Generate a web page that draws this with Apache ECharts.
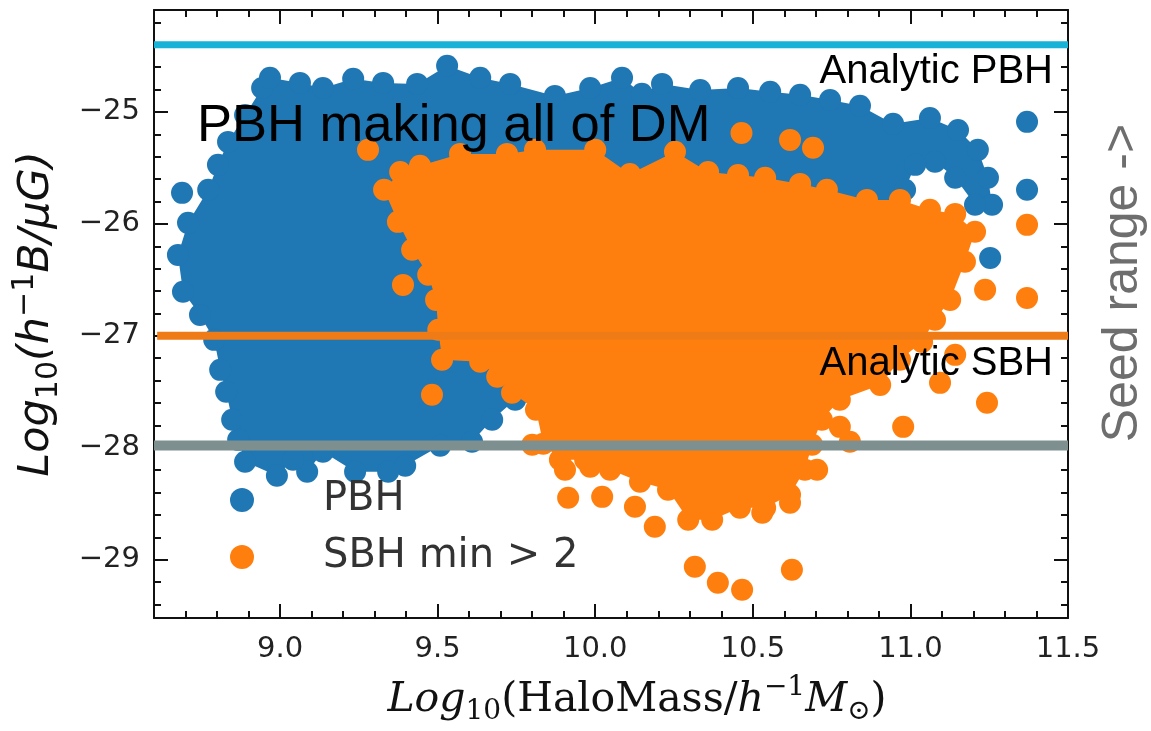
<!DOCTYPE html>
<html>
<head>
<meta charset="utf-8">
<script src="https://cdn.jsdelivr.net/npm/echarts@6/dist/echarts.min.js"></script>
<style>
  html, body { margin: 0; padding: 0; background: #fff; }
  #chart { width: 1151px; height: 731px; }
</style>
</head>
<body>
<div id="chart"></div>
<script>
// axis ranges and ticks
const xRange = [8.6, 11.5]
const yRange = [-29.52, -24.09]
const xMajor = [9.0, 9.5, 10.0, 10.5, 11.0, 11.5]
const xMinor = [8.7, 8.8, 8.9, 9.1, 9.2, 9.3, 9.4, 9.6, 9.7, 9.8, 9.9, 10.1, 10.2, 10.3, 10.4, 10.6, 10.7, 10.8, 10.9, 11.1, 11.2, 11.3, 11.4]
const yMajor = [-29, -28, -27, -26, -25]
const yMinor = [-29.4, -29.2, -28.8, -28.6, -28.4, -28.2, -27.8, -27.6, -27.4, -27.2, -26.8, -26.6, -26.4, -26.2, -25.8, -25.6, -25.4, -25.2, -24.8, -24.6, -24.4, -24.2]

// reference levels
const analyticPBH = -24.4
const analyticSBH = -27.0
const seedMin = -27.98

// PBH halos: points along the edge of the dense cloud (clockwise) + strays
const pbhEdge = [
  [8.943, -24.786], [8.968, -24.696], [9.063, -24.741], [9.136, -24.786], [9.232, -24.705],
  [9.327, -24.741], [9.435, -24.75], [9.530, -24.589], [9.635, -24.696], [9.730, -24.75],
  [9.872, -24.857], [9.984, -24.786], [10.085, -24.696], [10.148, -24.839], [10.212, -24.75],
  [10.333, -24.804], [10.453, -24.786], [10.555, -24.821], [10.650, -24.848], [10.745, -24.893],
  [10.840, -24.946], [10.945, -25.107], [11.062, -25.054], [11.151, -25.161], [11.214, -25.339],
  [11.246, -25.589], [11.259, -25.830], [11.205, -25.830], [11.142, -25.589], [11.078, -25.446],
  [11.015, -25.473], [10.983, -25.696], [10.904, -26.5], [10.808, -26.946], [10.333, -27.482],
  [9.888, -27.661], [9.746, -27.571], [9.673, -27.75], [9.609, -27.946], [9.508, -27.982],
  [9.397, -28.161], [9.343, -28.214], [9.238, -28.214], [9.136, -28.036], [9.086, -28.214],
  [9.041, -28.107], [8.990, -28.25], [8.889, -28.125], [8.867, -27.929], [8.848, -27.75],
  [8.829, -27.5], [8.810, -27.304], [8.791, -27.036], [8.746, -26.813], [8.692, -26.607],
  [8.676, -26.277], [8.708, -25.991], [8.772, -25.696], [8.803, -25.473], [8.835, -25.268],
  [8.889, -25.027]
]
const pbhStray = [
  [8.689, -25.723], [11.370, -25.089], [11.370, -25.696], [11.253, -26.304]
]

// SBH halos (min > 2): edge of the dense cloud + strays
const sbhEdge = [
  [9.381, -25.536], [9.444, -25.482], [9.571, -25.375], [9.720, -25.375], [9.809, -25.339],
  [10.0, -25.339], [10.110, -25.554], [10.253, -25.357], [10.358, -25.536], [10.453, -25.563],
  [10.539, -25.589], [10.650, -25.643], [10.735, -25.696], [10.862, -25.786], [10.967, -25.786],
  [11.062, -25.875], [11.142, -25.911], [11.205, -26.071], [11.173, -26.339], [11.126, -26.679],
  [11.078, -26.857], [11.037, -27.054], [10.967, -27.214], [10.904, -27.438], [10.776, -27.571],
  [10.719, -27.75], [10.688, -27.973], [10.665, -28.196], [10.618, -28.420], [10.539, -28.536],
  [10.459, -28.536], [10.371, -28.643], [10.295, -28.643], [10.231, -28.375], [10.142, -28.304],
  [10.047, -28.196], [9.968, -28.107], [9.888, -28.107], [9.835, -27.964], [9.812, -27.661],
  [9.736, -27.509], [9.689, -27.366], [9.635, -27.232], [9.514, -27.214], [9.502, -26.946],
  [9.495, -26.679], [9.470, -26.455], [9.419, -26.232], [9.374, -25.982], [9.330, -25.696]
]
const sbhStray = [
  [9.279, -25.339], [10.464, -25.188], [10.618, -25.25], [10.691, -25.321], [9.390, -26.545],
  [9.482, -27.527], [11.370, -26.009], [11.370, -26.661], [11.237, -26.589], [11.142, -27.170],
  [11.094, -27.420], [11.243, -27.598], [10.977, -27.813], [10.776, -27.813], [10.808, -27.946],
  [10.704, -28.196], [10.618, -28.491], [10.530, -28.580], [10.624, -29.089], [9.800, -27.973],
  [9.904, -28.196], [9.984, -28.170], [9.914, -28.446], [10.022, -28.438], [10.126, -28.527],
  [10.189, -28.705], [10.316, -29.063], [10.389, -29.205], [10.466, -29.268]
]

const blue = '#1f77b4'
const orange = '#ff7f0e'
const frame = { color: '#111', width: 2 }
const minus = (v) => (v < 0 ? '\u2212' : '') + Math.abs(v)

const chart = echarts.init(document.getElementById('chart'))

// one side of the frame: major ticks (+labels) and minor ticks
const side = (position, range, major, minor, label, name) => [
  {
    type: 'value', position, min: range[0], max: range[1],
    axisLine: { show: true, onZero: false, lineStyle: frame },
    axisTick: { show: true, inside: true, length: 14, lineStyle: frame, customValues: major },
    axisLabel: label || { show: false },
    splitLine: { show: false },
    ...(name || {}),
  },
  {
    type: 'value', position, min: range[0], max: range[1],
    axisLine: { show: false, onZero: false },
    axisTick: { show: true, inside: true, length: 7, lineStyle: frame, customValues: minor },
    axisLabel: { show: false },
    splitLine: { show: false },
  },
]

const tickFont = { fontSize: 29, color: '#222', fontFamily: 'DejaVu Sans' }

const xName = {
  name: '{i|Log}{s|10}{r|(HaloMass/}{i|h}{p|\u22121}{i|M}{s|\u2299}{r|)}',
  nameLocation: 'middle',
  nameGap: 56,
  nameTextStyle: {
    padding: [0, 0, 0, 52],
    rich: {
      i: { fontSize: 41, fontStyle: 'italic', fontFamily: 'DejaVu Serif', color: '#111', lineHeight: 52 },
      r: { fontSize: 41, fontFamily: 'DejaVu Serif', color: '#111', lineHeight: 52 },
      s: { fontSize: 28, fontFamily: 'DejaVu Serif', color: '#111', verticalAlign: 'bottom', lineHeight: 28 },
      p: { fontSize: 28, fontFamily: 'DejaVu Serif', color: '#111', verticalAlign: 'top', lineHeight: 28 },
    },
  },
}
const yName = {
  name: '{i|Log}{s|10}{i|(h}{p|\u22121}{i|B/\u03bcG)}',
  nameLocation: 'middle',
  nameGap: 90,
  nameRotate: 90,
  nameTextStyle: {
    rich: {
      i: { fontSize: 43, fontStyle: 'italic', fontFamily: 'DejaVu Sans', color: '#111', lineHeight: 54 },
      s: { fontSize: 30, fontFamily: 'DejaVu Sans', color: '#111', verticalAlign: 'bottom', lineHeight: 30 },
      p: { fontSize: 30, fontFamily: 'DejaVu Sans', color: '#111', verticalAlign: 'top', lineHeight: 30 },
    },
  },
}

const hull = (name, points, color, z) => ({
  type: 'custom', name, coordinateSystem: 'cartesian2d', silent: true, z,
  data: points, encode: { x: 0, y: 1 },
  renderItem: (params, api) => {
    if (params.dataIndex !== 0) return null
    return {
      type: 'polygon',
      shape: { points: points.map((p) => api.coord(p)) },
      style: { fill: color },
    }
  },
})

const dots = (name, points, color, z) => ({
  type: 'scatter', name, data: points, z,
  symbolSize: 22, itemStyle: { color, opacity: 1 }, emphasis: { disabled: true },
})

const level = (name, y, color, width, x0) => ({
  type: 'line', name, silent: true, symbol: 'none', z: 10,
  data: [[x0 !== undefined ? x0 : xRange[0], y], [xRange[1], y]],
  lineStyle: { color, width, cap: 'butt' },
})

const text = (str, x, y, size, color, align, rot) => ({
  type: 'text', x, y, z: 100, rotation: rot || 0, silent: true,
  style: {
    text: str, fill: color, font: size + 'px "Liberation Sans", Arial, sans-serif',
    align, textAlign: align, verticalAlign: 'middle', textVerticalAlign: 'middle',
  },
})

const option = {
  animation: false,
  backgroundColor: '#fff',
  grid: { left: 154, right: 83, top: 10, bottom: 113, outerBoundsMode: 'none', containLabel: false },
  legend: {
    orient: 'vertical', left: 225, top: 475,
    itemWidth: 24, itemHeight: 24, itemGap: 17, icon: 'circle',
    selectedMode: false,
    textStyle: { fontSize: 40, color: '#333', fontFamily: 'DejaVu Sans', padding: [0, 0, 0, 64] },
    data: ['PBH', 'SBH min > 2'],
  },
  xAxis: [
    ...side('bottom', xRange, xMajor, xMinor,
      { customValues: xMajor, formatter: (v) => v.toFixed(1), margin: 17, ...tickFont }, xName),
    ...side('top', xRange, xMajor, xMinor),
  ],
  yAxis: [
    ...side('left', yRange, yMajor, yMinor,
      { customValues: yMajor, formatter: minus, margin: 14, ...tickFont }, yName),
    ...side('right', yRange, yMajor, yMinor),
  ],
  graphic: [
    text('PBH making all of DM', 197, 127, 52.5, '#000', 'left'),
    text('Analytic PBH', 1053, 72, 40, '#000', 'right'),
    text('Analytic SBH', 1053, 364, 40, '#000', 'right'),
    text('Seed range ->', 1123, 283, 50, '#6e6e6e', 'center', Math.PI / 2),
  ],
  series: [
    hull('pbh-core', pbhEdge, blue, 2),
    dots('PBH', pbhEdge.concat(pbhStray), blue, 3),
    hull('sbh-core', sbhEdge, orange, 4),
    dots('SBH min > 2', sbhEdge.concat(sbhStray), orange, 5),
    level('analytic SBH', analyticSBH, '#ef7b16', 8, 8.61),
    level('seed min', seedMin, '#7e8f8f', 10),
    level('analytic PBH', analyticPBH, '#17b2d6', 7),
  ],
}

option && chart.setOption(option)
</script>
</body>
</html>
